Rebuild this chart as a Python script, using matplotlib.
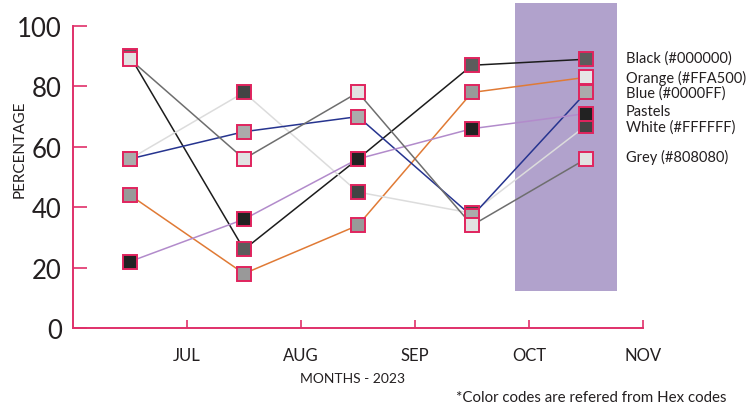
import matplotlib
matplotlib.use("Agg")
import matplotlib.pyplot as plt
from matplotlib.patches import Rectangle

plt.rcParams['font.family'] = ['Lato', 'DejaVu Sans']

# Category axis
months = ["JUL", "AUG", "SEP", "OCT", "NOV"]
point_pos = [0.5, 1.5, 2.5, 3.5, 4.5]

# Series values (percentage)
black = [90, 26, 56, 87, 89]
orange = [44, 18, 34, 78, 83]
blue = [56, 65, 70, 37, 78]
pastels = [22, 36, 56, 66, 71]
white = [56, 78, 45, 38, 67]
grey = [89, 56, 78, 34, 56]

labels = ["Black (#000000)", "Orange (#FFA500)", "Blue (#0000FF)",
          "Pastels", "White (#FFFFFF)", "Grey (#808080)"]

# highlighted band (x from, x to, y from, y to)
band = (3.88, 4.77, 12.3, 107.6)

edge = "#E0245E"
axis_col = "#E0306A"
text_col = "#231F20"

series = {
    "black":   dict(v=black,   line="#1c1c1c", face=["#5c5c5c"] * 5, lab=labels[0]),
    "orange":  dict(v=orange,  line="#E07A35", face=["#999999"] * 4 + ["#E6E6E6"], lab=labels[1]),
    "white":   dict(v=white,   line="#DCDCDC", face=["#444444"] * 5, lab=labels[4]),
    "blue":    dict(v=blue,    line="#26348F", face=["#ABABAB"] * 5, lab=labels[2]),
    "pastels": dict(v=pastels, line="#B28BCB", face=["#222222"] * 5, lab=labels[3]),
    "grey":    dict(v=grey,    line="#6E6E6E", face=["#E2E2E2"] * 5, lab=labels[5]),
}

fig = plt.figure(figsize=(7.49, 4.10), dpi=100)
ax = fig.add_axes([73 / 749, 81 / 410, 5.8 * 114 / 749, 108 * 3.02 / 410])
ax.set_xlim(0, 5.8)
ax.set_ylim(0, 108)

ax.add_patch(Rectangle((band[0], band[2]), band[1] - band[0], band[3] - band[2],
                       facecolor="#B1A2CC", edgecolor="none", zorder=1, clip_on=False))

for s in series.values():
    ax.plot(point_pos, s["v"], color=s["line"], lw=1.1, zorder=2)

z = 3
for s in series.values():
    for x, y, fc in zip(point_pos, s["v"], s["face"]):
        ax.plot([x], [y], marker="s", ms=10, mfc=fc, mec=edge, mew=1.4,
                ls="none", zorder=z)
    z += 1

label_y = {"black": 89.7, "orange": 83, "blue": 78, "pastels": 71.8,
           "white": 66.8, "grey": 56.9}
for key, s in series.items():
    ax.text(4.85, label_y[key], s["lab"], fontsize=10.5, color=text_col,
            va="center", ha="left", zorder=10)

for sp in ["top", "right"]:
    ax.spines[sp].set_visible(False)
for sp in ["left", "bottom"]:
    ax.spines[sp].set_color(axis_col)
    ax.spines[sp].set_linewidth(1.4)
ax.spines["left"].set_bounds(0, 100)
ax.spines["bottom"].set_bounds(0, 5)

ax.set_yticks([0, 20, 40, 60, 80, 100])
ax.tick_params(axis="y", direction="in", length=10, width=1.2, color=axis_col,
               labelsize=18.5, labelcolor=text_col, pad=8)
ax.set_xticks([1, 2, 3, 4, 5])
ax.set_xticklabels(months)
ax.tick_params(axis="x", direction="in", length=6, width=1.2, color=axis_col,
               labelsize=12, labelcolor=text_col, pad=14)

fig.text(352 / 749, 1 - 379 / 410, "MONTHS - 2023", fontsize=10, color=text_col,
         ha="center", va="center")
fig.text(20 / 749, 1 - 149 / 410, "PERCENTAGE", fontsize=11, color=text_col,
         ha="center", va="center", rotation=90)
fig.text(727 / 749, 1 - 398 / 410, "*Color codes are refered from Hex codes",
         fontsize=10.8, color=text_col, ha="right", va="center")

fig.savefig("out.png", dpi=100)
